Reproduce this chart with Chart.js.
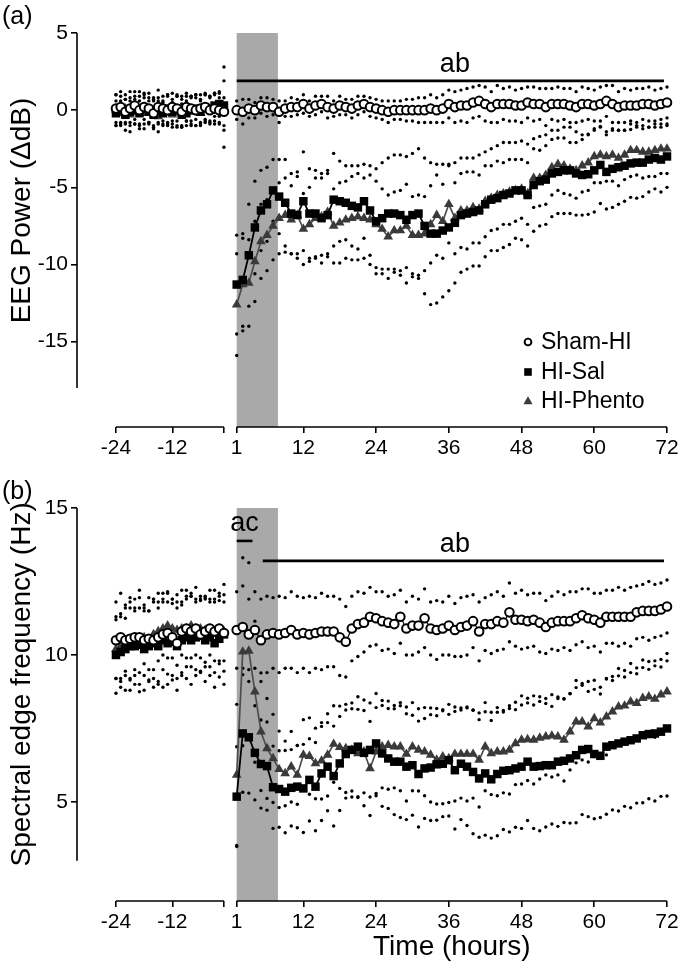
<!DOCTYPE html>
<html><head><meta charset="utf-8">
<script src="https://cdn.jsdelivr.net/npm/chart.js@4"></script>
<style>
html,body{margin:0;padding:0;background:#fff;}
#wrap{position:relative;width:682px;height:974px;overflow:hidden;background:#fff;}
canvas{position:absolute;left:0;}
</style></head><body>
<div id="wrap">
<canvas id="ca" width="682" height="480" style="top:0px"></canvas>
<canvas id="cb" width="682" height="494" style="top:480px"></canvas>
</div>
<script>
// ---------- categories / ticks ----------
const BASE_HOURS = Array.from({length: 24}, (_, i) => i - 24);   // -24 .. -1
const POST_HOURS = Array.from({length: 72}, (_, i) => i + 1);    // 1 .. 72
const X_TICKS = [-24, -12, -1, 1, 12, 24, 36, 48, 60, 72];
const X_TICK_LABELS = ['-24', '-12', '', '1', '12', '24', '36', '48', '60', '72'];
const SERIES = ['Sham-HI', 'HI-Sal', 'HI-Phento'];
const SHADE_HOURS = [1, 7.8];
const A_Y_TICKS = [5, 0, -5, -10, -15];
const B_Y_TICKS = [15, 10, 5];

// ---------- panel (a): EEG power (dB) ----------
const A_SHAM_BASE = [0.1,0.2,-0.1,0.1,0.3,0.0,0.2,0.1,-0.2,0.2,0.1,0.0,0.2,0.1,-0.1,0.2,0.1,0.0,0.1,0.2,0.0,0.1,0.0,-0.1];
const A_SAL_BASE  = [-0.2,0.0,-0.3,-0.1,0.0,-0.2,0.1,-0.1,-0.3,0.0,-0.2,0.1,-0.1,0.0,-0.3,-0.2,0.0,0.1,-0.1,0.2,0.1,0.3,0.4,0.3];
const A_PHE_BASE  = [0.0,-0.2,0.1,-0.3,-0.1,0.0,-0.2,0.0,-0.1,-0.4,-0.2,0.0,-0.3,-0.1,-0.2,0.1,-0.1,0.0,-0.2,0.1,0.0,0.2,0.1,0.2];
const A_SHAM_BASE_SEM = [0.9,1.0,0.8,1.1,0.9,1.2,0.8,1.0,0.9,1.1,0.8,1.0,0.9,0.8,1.0,0.9,0.8,1.0,0.9,0.8,0.9,1.0,0.8,0.9];
const A_SAL_BASE_SEM  = [0.8,0.9,1.0,0.7,0.9,0.8,1.0,0.7,0.9,0.8,0.7,0.9,0.8,1.0,0.7,0.8,0.9,0.7,0.8,0.9,0.8,0.7,0.8,1.6];
const A_PHE_BASE_SEM  = [1.0,0.8,0.9,1.1,0.8,0.9,1.0,0.8,0.9,1.0,0.8,0.9,0.8,1.0,0.9,0.8,0.9,1.0,0.8,0.9,0.8,0.9,1.0,2.6];

const A_SHAM_POST = [0.0,-0.1,0.1,0.0,0.3,0.2,0.2,-0.1,0.1,0.2, 0.2,0.4,0.1,0.3,0.4,0.2,0.1,0.3,0.2,0.1,
  0.3,0.4,0.2,0.1,0.0,-0.1,0.0,0.0,0.0,0.0, 0.0,0.0,0.1,0.0,0.1,0.4,0.2,0.3,0.3,0.5,
  0.6,0.4,0.2,0.4,0.4,0.4,0.3,0.3,0.5,0.4, 0.4,0.2,0.4,0.4,0.4,0.3,0.2,0.4,0.4,0.3,
  0.4,0.6,0.4,0.2,0.3,0.3,0.3,0.4,0.4,0.3, 0.4,0.5];
const A_SAL_POST = [-11.3,-11.0,-9.4,-7.6,-6.5,-6.1,-5.2,-5.6,-6.0,-6.7, -6.8,-5.9,-6.7,-6.7,-7.0,-6.8,-5.8,-5.9,-6.0,-6.2,
  -6.3,-5.9,-6.5,-7.2,-7.0,-6.7,-6.7,-6.8,-7.1,-6.8, -6.7,-7.5,-8.0,-8.0,-7.8,-7.6,-7.3,-6.8,-6.7,-6.6,
  -6.5,-6.1,-5.8,-5.7,-5.5,-5.4,-5.2,-5.2,-5.5,-4.85, -4.6,-4.5,-4.1,-4.0,-3.9,-3.9,-4.1,-4.2,-4.15,-3.9,
  -3.55,-4.0,-3.8,-3.7,-3.6,-3.45,-3.4,-3.4,-3.2,-3.1, -3.2,-3.0];
const A_PHE_POST = [-12.6,-11.3,-11.2,-9.8,-8.5,-8.1,-7.5,-7.0,-6.8,-7.1, -6.8,-7.7,-7.4,-7.0,-6.9,-6.6,-7.5,-7.3,-7.1,-7.0,
  -6.9,-7.0,-7.1,-7.4,-7.7,-8.2,-7.8,-7.8,-7.5,-8.1, -8.1,-8.0,-7.4,-6.8,-7.2,-6.1,-7.0,-6.5,-6.5,-6.3,
  -6.4,-5.9,-5.7,-5.5,-5.4,-5.3,-5.2,-5.1,-5.4,-4.4, -4.4,-4.2,-3.7,-3.5,-3.6,-3.8,-3.9,-3.6,-3.4,-3.0,
  -2.9,-3.0,-2.9,-3.1,-2.9,-2.6,-2.6,-2.7,-2.7,-2.6, -2.5,-2.5];
const A_SHAM_POST_SEM = [0.6,0.8,0.6,0.5,0.5,0.6,0.5,0.7,0.5,0.6, 0.5,0.6,0.5,0.6,0.5,0.7,0.5,0.6,0.5,0.6,
  0.6,0.5,0.6,0.6,0.6,0.7,0.6,0.6,0.7,0.7, 0.8,0.8,0.9,0.8,0.9,0.9,1.0,1.0,1.1,1.0,
  1.0,1.1,1.0,1.2,1.0,1.1,1.0,1.1,1.0,1.1, 1.0,1.2,1.0,1.1,1.0,1.1,1.0,1.1,1.0,1.0,
  1.1,1.0,1.2,1.0,1.1,1.0,1.1,1.0,1.1,1.0, 1.0,1.0];
const A_SAL_POST_SEM = [3.2,3.0,3.3,3.0,2.6,2.4,2.0,2.4,2.8,2.6, 2.8,3.2,2.9,2.8,2.9,2.7,3.0,2.6,2.4,2.6,
  2.7,2.4,2.9,3.4,3.6,3.6,3.8,3.9,4.1,4.0, 4.2,4.4,4.6,4.5,4.3,4.1,3.9,3.7,3.6,3.5,
  3.6,3.4,3.3,3.4,3.4,3.3,3.1,3.2,3.3,3.0, 2.9,2.9,2.8,2.7,2.8,2.8,2.7,2.6,2.6,2.7,
  2.5,2.4,2.5,2.4,2.3,2.2,2.3,2.2,2.1,2.0, 2.1,2.0];
const A_PHE_POST_SEM = [3.3,3.0,2.8,2.6,2.4,2.3,2.2,2.3,2.4,2.2, 2.5,2.3,2.4,2.6,2.5,2.7,2.4,2.6,2.5,2.7,
  2.8,2.6,2.9,2.8,2.6,2.7,2.5,2.6,2.7,2.5, 2.6,2.4,2.5,2.6,2.4,2.5,2.3,2.4,2.5,2.3,
  2.2,2.3,2.1,2.2,2.0,2.1,2.0,1.9,2.0,1.9, 1.8,1.9,1.8,1.7,1.8,1.7,1.8,1.7,1.8,1.7,
  1.8,1.6,1.7,1.8,1.6,1.7,1.6,1.7,1.6,1.7, 1.6,1.6];

// ---------- panel (b): spectral edge frequency (Hz) ----------
const B_SHAM_BASE = [10.5,10.6,10.5,10.55,10.6,10.6,10.5,10.55,10.5,10.6,10.7,10.75,10.6,10.4,10.8,10.9,10.8,10.9,10.7,10.8,10.9,10.8,10.9,10.75];
const B_SAL_BASE  = [10.0,10.1,10.2,10.3,10.3,10.35,10.2,10.3,10.4,10.3,10.5,10.4,10.45,10.3,10.5,10.6,10.5,10.6,10.65,10.5,10.6,10.4,10.55,10.7];
const B_PHE_BASE  = [10.2,10.3,10.35,10.4,10.5,10.5,10.6,10.5,10.7,10.8,10.9,11.0,10.9,10.85,10.9,10.9,11.0,10.9,10.9,10.85,10.9,10.8,10.9,10.8];
const B_SHAM_BASE_SEM = [1.3,1.5,1.2,1.4,1.3,1.6,1.2,1.4,1.3,1.5,1.2,1.4,1.3,1.2,1.4,1.3,1.2,1.4,1.3,1.2,1.3,1.4,1.2,1.3];
const B_SAL_BASE_SEM  = [1.3,1.2,1.4,1.5,1.3,1.6,1.4,1.2,1.5,1.3,1.6,1.4,1.3,1.5,1.2,1.4,1.5,1.3,1.2,1.4,1.3,1.5,1.3,1.7];
const B_PHE_BASE_SEM  = [1.0,1.1,0.9,1.2,1.0,1.1,0.9,1.0,1.2,1.0,0.9,1.1,1.0,1.2,0.9,1.0,1.1,0.9,1.0,1.1,0.9,1.0,1.1,1.0];

const B_SHAM_POST = [10.85,10.95,10.7,10.85,10.5,10.7,10.75,10.7,10.75,10.85, 10.7,10.75,10.7,10.75,10.8,10.8,10.8,10.6,10.45,10.9,
  11.05,11.1,11.3,11.25,11.15,11.1,11.05,11.3,10.9,11.0, 11.0,11.25,10.9,10.85,10.9,11.0,10.85,10.95,11.0,11.15,
  10.8,11.05,11.05,11.15,11.1,11.45,11.2,11.2,11.15,11.2, 11.1,10.95,11.1,11.15,11.15,11.15,11.25,11.35,11.25,11.2,
  11.1,11.3,11.3,11.3,11.3,11.3,11.45,11.5,11.5,11.5, 11.55,11.65];
const B_SAL_POST = [5.18,7.33,7.2,6.67,6.29,6.22,5.5,5.44,5.35,5.48, 5.52,5.46,5.75,5.52,5.97,6.2,5.88,6.31,6.63,6.77,
  6.88,6.67,6.77,6.99,6.65,6.48,6.37,6.37,6.2,6.25, 5.95,6.14,6.17,6.28,6.3,6.42,6.08,6.3,6.2,6.02,
  5.8,5.97,5.77,5.95,6.06,6.08,6.14,6.2,6.37,6.2, 6.22,6.25,6.25,6.37,6.4,6.48,6.59,6.77,6.8,6.63,
  6.57,6.88,6.93,6.99,7.05,7.1,7.16,7.27,7.31,7.33, 7.39,7.5];
const B_PHE_POST = [5.92,10.11,10.14,8.75,7.39,6.82,6.48,6.11,5.97,6.2, 5.92,6.6,6.56,6.31,6.4,6.6,6.97,6.86,6.82,6.77,
  6.65,6.71,6.14,6.71,6.88,6.93,6.88,6.88,6.63,6.88, 6.77,6.71,6.6,6.43,6.54,6.48,6.63,6.63,6.63,6.63,
  6.43,6.88,6.65,6.71,6.71,6.77,6.99,7.11,7.13,7.11, 7.18,7.22,7.25,7.22,7.11,7.39,7.73,7.73,7.56,7.84,
  7.7,7.9,8.07,8.24,8.27,8.41,8.36,8.53,8.58,8.5, 8.65,8.75];
const B_SHAM_POST_SEM = [1.3,1.4,1.2,1.3,1.4,1.3,1.2,1.3,1.2,1.3, 1.3,1.2,1.3,1.2,1.3,1.2,1.2,1.3,1.2,1.1,
  1.1,1.0,1.0,0.9,1.0,0.9,1.0,0.9,0.9,1.0, 0.9,1.0,0.9,1.0,0.9,1.0,0.9,1.0,1.0,0.9,
  1.0,0.9,1.0,1.0,0.9,1.0,0.9,1.0,0.9,0.9, 1.0,0.9,0.9,1.0,0.9,1.0,0.9,0.9,1.0,0.9,
  1.0,0.9,0.9,1.0,0.9,1.0,0.9,0.9,1.0,0.9, 0.9,0.9];
const B_SAL_POST_SEM = [1.7,2.0,1.9,1.6,1.5,1.5,1.4,1.3,1.4,1.3, 1.4,1.5,1.4,1.5,1.6,1.5,1.7,1.6,1.5,1.6,
  1.7,1.8,1.6,1.7,1.8,1.7,1.8,1.9,1.8,1.7, 1.8,1.7,1.8,1.9,1.8,1.9,2.0,1.9,2.0,2.1,
  2.0,2.1,2.0,2.1,2.0,2.1,2.0,2.1,2.0,2.1, 2.2,2.1,2.0,2.2,2.1,2.2,2.3,2.2,2.3,2.2,
  2.1,2.3,2.2,2.3,2.2,2.3,2.2,2.3,2.2,2.3, 2.2,2.3];
const B_PHE_POST_SEM = [2.4,3.2,3.0,2.4,2.0,1.7,1.5,1.3,1.1,1.2, 1.0,1.2,1.3,1.2,1.3,1.4,1.3,1.4,1.5,1.4,
  1.5,1.4,1.6,1.5,1.4,1.5,1.4,1.5,1.6,1.5, 1.4,1.5,1.6,1.5,1.6,1.5,1.6,1.5,1.6,1.5,
  1.6,1.5,1.4,1.5,1.4,1.5,1.4,1.5,1.4,1.5, 1.4,1.3,1.4,1.3,1.4,1.3,1.4,1.3,1.2,1.3,
  1.2,1.3,1.2,1.3,1.2,1.3,1.2,1.3,1.2,1.3, 1.2,1.3];

// ---------- broken-axis mapping (layout) ----------
const X_MIN = -25.35, X_MAX = 72;
const GAP_END = -1.10, BASE_RATIO = 0.7748;
function U(t) { return t >= 1 ? t : GAP_END + (t + 1) * BASE_RATIO; }

const FONT = "'Liberation Sans', Arial, Helvetica, sans-serif";
Chart.defaults.font.family = FONT;
Chart.defaults.color = '#000';

const STYLES = [
  {pointStyle: 'circle', radius: 4.3, bg: '#ffffff', border: '#000000', bw: 2.0, line: '#000000', lw: 1.2, order: 1},
  {pointStyle: 'rect', radius: 6.0, bg: '#000000', border: '#000000', bw: 0, line: '#000000', lw: 1.8, order: 2},
  {pointStyle: 'triangle', radius: 5.6, bg: '#3a3a3a', border: '#3a3a3a', bw: 0, line: '#4d4d4d', lw: 1.7, order: 3}
];

function pts(hours, vals) { return hours.map((h, i) => ({x: U(h), y: vals[i]})); }
function band(hours, vals, sem, sign) { return hours.map((h, i) => ({x: U(h), y: vals[i] + sign * sem[i]})); }

function buildDatasets(groups) {
  const ds = [];
  groups.forEach((g, k) => {
    const st = STYLES[k];
    [[BASE_HOURS, g.base, g.baseSem], [POST_HOURS, g.post, g.postSem]].forEach(([hrs, v, s]) => {
      [1, -1].forEach(sign => ds.push({
        label: SERIES[k] + ' SEM', data: band(hrs, v, s, sign), showLine: false,
        pointRadius: 1.7, pointBackgroundColor: '#000', pointBorderWidth: 0, pointStyle: 'circle',
        order: 10, clip: false
      }));
      ds.push({
        label: SERIES[k], data: pts(hrs, v), showLine: true, borderColor: st.line, borderWidth: st.lw,
        pointStyle: st.pointStyle, pointRadius: st.radius, pointBackgroundColor: st.bg,
        pointBorderColor: st.border, pointBorderWidth: st.bw, order: st.order, clip: false, tension: 0
      });
    });
  });
  return ds;
}

const decor = {
  id: 'decor',
  beforeDatasetsDraw(chart, args, o) {
    const {ctx, chartArea, scales: {x}} = chart;
    ctx.save();
    ctx.fillStyle = '#a9a9a9';
    const x0 = x.getPixelForValue(U(SHADE_HOURS[0])), x1 = x.getPixelForValue(U(SHADE_HOURS[1]));
    ctx.fillRect(x0, chartArea.top, x1 - x0, chartArea.bottom - chartArea.top);
    ctx.restore();
  },
  afterDraw(chart, args, o) {
    const {ctx, chartArea, scales: {x, y}} = chart;
    ctx.save();
    ctx.strokeStyle = '#000'; ctx.fillStyle = '#000'; ctx.lineWidth = 1.6;
    // y axis line (shortened)
    const yTop = y.getPixelForValue(o.axisMax), yBot = y.getPixelForValue(o.axisMin);
    ctx.beginPath(); ctx.moveTo(chartArea.left, yTop); ctx.lineTo(chartArea.left, yBot); ctx.stroke();
    // broken x axis
    const yb = chartArea.bottom;
    [[-24, -1], [1, 72]].forEach(([a, b]) => {
      ctx.beginPath(); ctx.moveTo(x.getPixelForValue(U(a)), yb); ctx.lineTo(x.getPixelForValue(U(b)), yb); ctx.stroke();
    });
    // significance bars
    ctx.lineWidth = 2.6;
    ctx.textAlign = 'center'; ctx.textBaseline = 'alphabetic';
    ctx.font = '27px ' + FONT;
    o.bars.forEach(bar => {
      const py = y.getPixelForValue(bar.y);
      ctx.beginPath(); ctx.moveTo(x.getPixelForValue(U(bar.from)), py); ctx.lineTo(x.getPixelForValue(U(bar.to)), py); ctx.stroke();
      ctx.fillText(bar.text, x.getPixelForValue(U(bar.textAt)), py - bar.gap);
    });
    // y title
    ctx.save();
    ctx.font = '28px ' + FONT; ctx.textBaseline = 'middle';
    ctx.translate(o.yTitleX, (yTop + yBot) / 2); ctx.rotate(-Math.PI / 2);
    ctx.fillText(o.yTitle, 0, 0);
    ctx.restore();
    // panel label
    ctx.font = '25px ' + FONT; ctx.textAlign = 'left'; ctx.textBaseline = 'middle';
    ctx.fillText(o.panel, 2, o.panelY);
    // x title
    if (o.xTitle) {
      ctx.font = '28px ' + FONT; ctx.textAlign = 'center'; ctx.textBaseline = 'middle';
      ctx.fillText(o.xTitle, (x.getPixelForValue(U(1)) + x.getPixelForValue(U(72))) / 2, o.xTitleY);
    }
    // legend
    if (o.legend) {
      ctx.font = '23px ' + FONT; ctx.textAlign = 'left'; ctx.textBaseline = 'middle';
      o.legend.rows.forEach((ry, k) => {
        const st = STYLES[k];
        const mx = o.legend.markerX;
        ctx.beginPath();
        if (k === 0) { ctx.arc(mx, ry, 3.4, 0, Math.PI * 2); ctx.fillStyle = '#fff'; ctx.fill(); ctx.lineWidth = 1.9; ctx.stroke(); }
        else if (k === 1) { ctx.fillStyle = st.bg; ctx.fillRect(mx - 3.8, ry - 3.8, 7.6, 7.6); }
        else { ctx.fillStyle = st.bg; ctx.moveTo(mx, ry - 4.8); ctx.lineTo(mx + 4.5, ry + 3.2); ctx.lineTo(mx - 4.5, ry + 3.2); ctx.closePath(); ctx.fill(); }
        ctx.fillStyle = '#000';
        ctx.fillText(SERIES[k], o.legend.textX, ry + 1);
      });
    }
    ctx.restore();
  }
};

function makePanel(id, groups, p) {
  const H = p.height;
  return new Chart(document.getElementById(id), {
    type: 'scatter',
    data: {datasets: buildDatasets(groups)},
    options: {
      responsive: false, animation: false, devicePixelRatio: 1,
      layout: {padding: {left: 0, right: 15, top: p.top, bottom: 0}},
      plugins: {legend: {display: false}, tooltip: {enabled: false}, decor: p.decor},
      scales: {
        x: {
          type: 'linear', min: X_MIN, max: X_MAX,
          afterBuildTicks: s => { s.ticks = X_TICKS.map(t => ({value: U(t)})); },
          afterFit: s => { s.height = H - p.plotBottom; },
          ticks: {autoSkip: false, maxRotation: 0, padding: 3, font: {size: 21}, color: '#000',
                  callback: (v, i) => X_TICK_LABELS[i]},
          grid: {display: true, drawOnChartArea: false, drawTicks: true, tickLength: 6, color: '#000', lineWidth: 1.6},
          border: {display: false}
        },
        y: {
          type: 'linear', min: p.yMin, max: p.yMax,
          afterBuildTicks: s => { s.ticks = p.yTicks.map(v => ({value: v})); },
          afterFit: s => { s.width = 77; },
          ticks: {padding: 3, font: {size: 21}, color: '#000', callback: v => String(v)},
          grid: {display: true, drawOnChartArea: false, drawTicks: true, tickLength: 6, color: '#000', lineWidth: 1.6},
          border: {display: false}
        }
      }
    },
    plugins: [decor]
  });
}

makePanel('ca', [
  {base: A_SHAM_BASE, baseSem: A_SHAM_BASE_SEM, post: A_SHAM_POST, postSem: A_SHAM_POST_SEM},
  {base: A_SAL_BASE, baseSem: A_SAL_BASE_SEM, post: A_SAL_POST, postSem: A_SAL_POST_SEM},
  {base: A_PHE_BASE, baseSem: A_PHE_BASE_SEM, post: A_PHE_POST, postSem: A_PHE_POST_SEM}
], {
  height: 480, top: 33, plotBottom: 427, yMin: -20.53, yMax: 5, yTicks: A_Y_TICKS,
  decor: {
    axisMin: -18, axisMax: 5, yTitle: 'EEG Power (\u0394dB)', yTitleX: 22, panel: '(a)', panelY: 17,
    bars: [{from: 1, to: 71.5, y: 1.9, text: 'ab', textAt: 37, gap: 9}],
    legend: {rows: [342, 372, 401], markerX: 528, textX: 541}
  }
});

makePanel('cb', [
  {base: B_SHAM_BASE, baseSem: B_SHAM_BASE_SEM, post: B_SHAM_POST, postSem: B_SHAM_POST_SEM},
  {base: B_SAL_BASE, baseSem: B_SAL_BASE_SEM, post: B_SAL_POST, postSem: B_SAL_POST_SEM},
  {base: B_PHE_BASE, baseSem: B_PHE_BASE_SEM, post: B_PHE_POST, postSem: B_PHE_POST_SEM}
], {
  height: 494, top: 28, plotBottom: 421, yMin: 1.63, yMax: 15, yTicks: B_Y_TICKS,
  decor: {
    axisMin: 3, axisMax: 15, yTitle: 'Spectral edge frequency (Hz)', yTitleX: 22, panel: '(b)', panelY: 12,
    bars: [{from: 1, to: 3.6, y: 13.88, text: 'ac', textAt: 2.3, gap: 10},
           {from: 5.3, to: 71.5, y: 13.2, text: 'ab', textAt: 37, gap: 9}],
    legend: null, xTitle: 'Time (hours)', xTitleY: 467
  }
});
</script>
</body></html>
